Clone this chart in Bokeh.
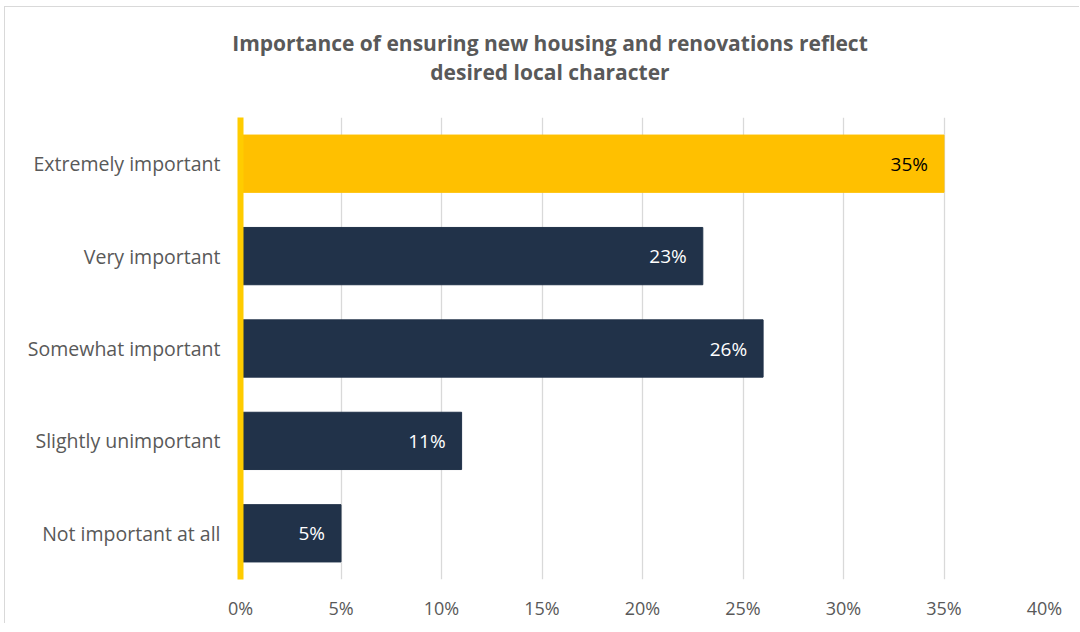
from bokeh.plotting import figure
from bokeh.layouts import column
from bokeh.models import (FactorRange, Range1d, ColumnDataSource, Div,
                          FixedTicker, NumeralTickFormatter)
from bokeh.core.properties import value
from bokeh.embed import file_html
from bokeh.resources import INLINE

# ---- data ----
categories = ["Extremely important", "Very important", "Somewhat important",
              "Slightly unimportant", "Not important at all"]
shares = [0.35, 0.23, 0.26, 0.11, 0.05]
value_labels = ["35%", "23%", "26%", "11%", "5%"]
x_ticks = [0.0, 0.05, 0.10, 0.15, 0.20, 0.25, 0.30, 0.35, 0.40]
title_lines = ["Importance of ensuring new housing and renovations reflect",
               "desired local character"]

bar_colors = ["#FFC000", "#213249", "#213249", "#213249", "#213249"]
text_colors = ["#000000", "#FFFFFF", "#FFFFFF", "#FFFFFF", "#FFFFFF"]

FONT = "Open Sans"
GRAY = "#595959"

src = ColumnDataSource(dict(cat=categories, val=shares, lab=value_labels,
                            color=bar_colors, tcolor=text_colors))

p = figure(width=1064, height=516, output_backend="svg", toolbar_location=None,
           y_range=FactorRange(*list(reversed(categories))),
           x_range=Range1d(0, 0.40))
p.frame_width = 804
p.frame_height = 462
p.min_border_left = 235
p.min_border_right = 25
p.min_border_top = 10
p.min_border_bottom = 44
p.outline_line_color = None
p.background_fill_color = "white"
p.border_fill_color = "white"

p.hbar(y="cat", left=0, right="val", height=0.62, color="color", source=src)

p.text(x="val", y="cat", text="lab", source=src, x_offset=-16,
       text_align="right", text_baseline="middle", text_color="tcolor",
       text_font=value(FONT), text_font_size="19px")

# axes
p.xaxis.ticker = FixedTicker(ticks=x_ticks)
p.xaxis.formatter = NumeralTickFormatter(format="0%")
p.xaxis.axis_line_color = None
p.xaxis.major_tick_line_color = None
p.xaxis.minor_tick_line_color = None
p.xaxis.major_tick_out = 0
p.xaxis.minor_tick_out = 0
p.xaxis.major_label_standoff = 16
p.xaxis.major_label_text_font = FONT
p.xaxis.major_label_text_font_size = "18px"
p.xaxis.major_label_text_color = GRAY

# yellow vertical axis line at 0%
p.yaxis.axis_line_color = "#FFCC00"
p.yaxis.axis_line_width = 6
p.yaxis.major_tick_line_color = None
p.yaxis.minor_tick_line_color = None
p.yaxis.major_tick_out = 0
p.yaxis.minor_tick_out = 0
p.yaxis.major_label_standoff = 20
p.yaxis.major_label_text_font = FONT
p.yaxis.major_label_text_font_size = "19.5px"
p.yaxis.major_label_text_color = GRAY

p.xgrid.grid_line_color = "#D9D9D9"
p.xgrid.grid_line_width = 1.3
p.ygrid.grid_line_color = None

# title block (two centred lines)
title_html = (
    '<div style="width:1080px;text-align:center;font-family:\'Open Sans\';'
    'font-weight:bold;font-size:21px;line-height:29px;color:%s;'
    'padding-top:17px;white-space:nowrap;">%s</div>'
    % (GRAY, "<br>".join(title_lines))
)
title_div = Div(text=title_html, width=1064, height=90,
                styles={"overflow": "visible"})

layout = column(title_div, p, spacing=0,
                styles={"border-top": "1px solid #D9D9D9",
                        "border-left": "1px solid #D9D9D9",
                        "margin-left": "4px", "margin-top": "6px",
                        "background-color": "white"})

open("out.html", "w").write(file_html(layout, INLINE))
